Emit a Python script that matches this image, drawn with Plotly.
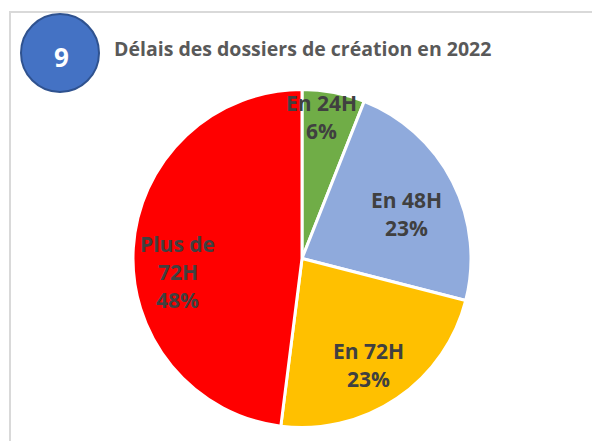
import math
import plotly.graph_objects as go

# Data
categories = ["En 24H", "En 48H", "En 72H", "Plus de 72H"]
values = [6, 23, 23, 48]
label_lines = [["En 24H", "6%"], ["En 48H", "23%"], ["En 72H", "23%"], ["Plus de", "72H", "48%"]]
colors = ["#70AD47", "#8FAADC", "#FFC000", "#FF0000"]
title_text = "Délais des dossiers de création en 2022"
badge_text = "9"

W, H = 592, 441
cx, cy, R = 302, 258.5, 169  # pie centre / radius in px
FONT = "Open Sans, sans-serif"

fig = go.Figure()
fig.add_trace(go.Pie(
    labels=categories, values=values, sort=False, direction="clockwise", rotation=0,
    marker=dict(colors=colors, line=dict(color="white", width=3)),
    textinfo="none", hoverinfo="label+percent", showlegend=False,
    domain=dict(x=[(cx - R) / W, (cx + R) / W], y=[(H - cy - R) / H, (H - cy + R) / H]),
))

# labels placed at slice mid-angles (computed from data), with small style nudges
radial = [0.852, 0.675, 0.745, 0.738]
nudge_x = [-7, 3, -4, 0]
nudge_y = [0, 7, 2, 21]
line_h = 28
total = sum(values)
cum = 0
annotations = []
for v, lines, f, nx, ny in zip(values, label_lines, radial, nudge_x, nudge_y):
    mid = (cum + v / 2) / total * 2 * math.pi
    cum += v
    px = cx + f * R * math.sin(mid) + nx
    py = cy - f * R * math.cos(mid) + ny
    n = len(lines)
    for i, t in enumerate(lines):
        ly = py + (i - (n - 1) / 2) * line_h
        annotations.append(dict(
            x=px / W, y=1 - ly / H, xref="paper", yref="paper", text="<b>%s</b>" % t,
            showarrow=False, xanchor="center", yanchor="middle",
            font=dict(family=FONT, size=21, color="#404040"),
        ))

annotations.append(dict(
    x=112 / W, y=1 - 48 / H, xref="paper", yref="paper", text="<b>%s</b>" % title_text,
    showarrow=False, xanchor="left", yanchor="middle",
    font=dict(family=FONT, size=19.5, color="#595959"),
))
annotations.append(dict(
    x=61 / W, y=1 - 57 / H, xref="paper", yref="paper", text="<b>%s</b>" % badge_text,
    showarrow=False, xanchor="center", yanchor="middle",
    font=dict(family=FONT, size=26, color="white"),
))

shapes = [
    dict(type="rect", xref="paper", yref="paper", x0=10 / W, x1=1.05, y0=-0.05, y1=1 - 12 / H,
         line=dict(color="#D9D9D9", width=2), fillcolor="rgba(0,0,0,0)", layer="below"),
    dict(type="circle", xref="paper", yref="paper", x0=21 / W, x1=99 / W, y0=1 - 92 / H, y1=1 - 14 / H,
         line=dict(color="#2F528F", width=2), fillcolor="#4472C4"),
]

fig.update_layout(
    width=W, height=H, margin=dict(l=0, r=0, t=0, b=0),
    paper_bgcolor="white", plot_bgcolor="white",
    annotations=annotations, shapes=shapes,
)
fig.write_html("out.html", config={"displayModeBar": False},
               post_script="document.body.style.margin='0';document.body.style.overflow='hidden';")
